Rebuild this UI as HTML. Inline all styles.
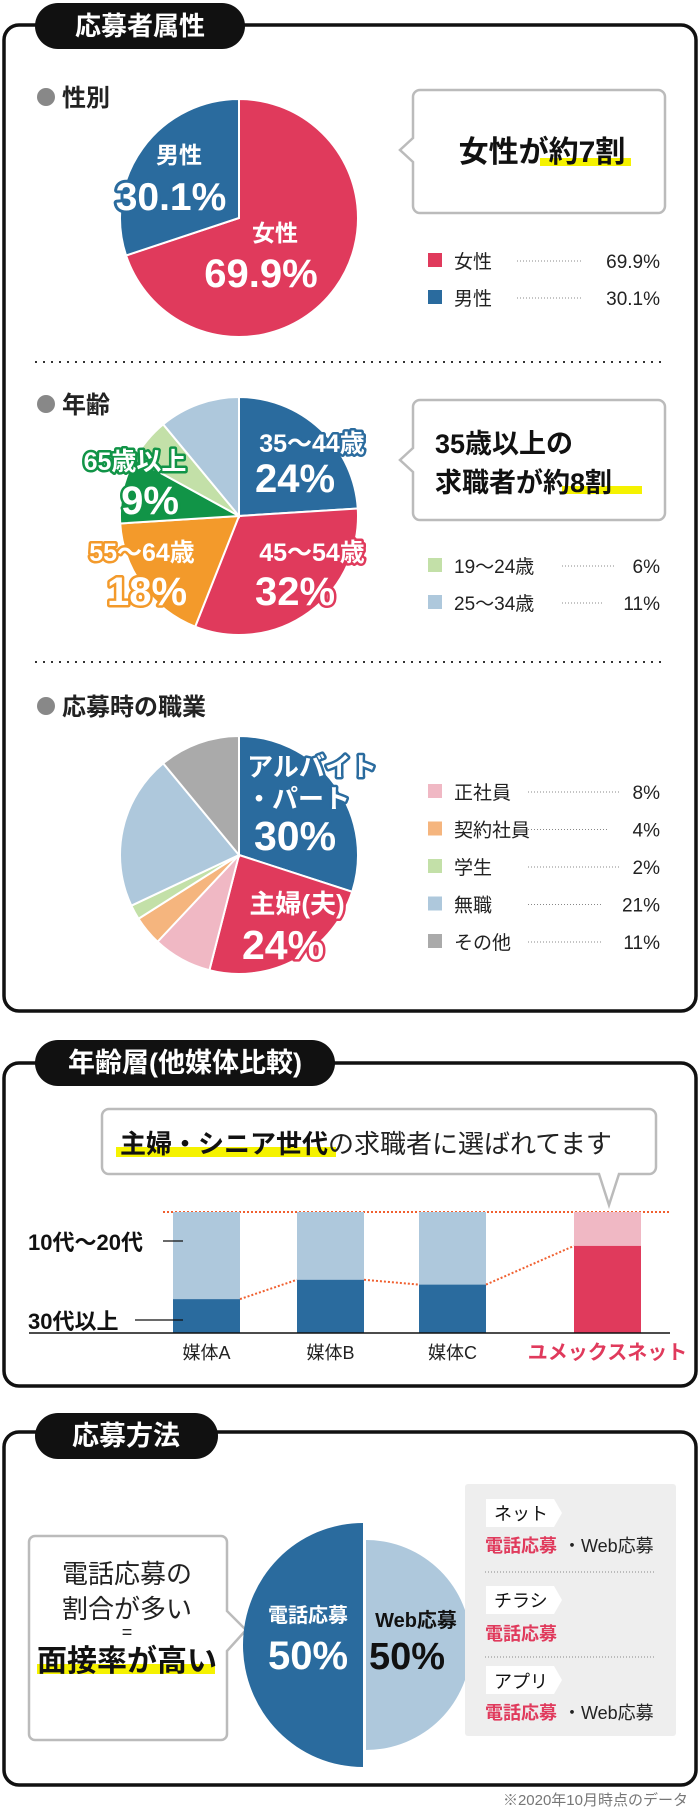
<!DOCTYPE html>
<html><head><meta charset="utf-8">
<style>
html,body{margin:0;padding:0;background:#fff;}
svg{display:block;font-family:"Liberation Sans","Noto Sans CJK JP",sans-serif;}
.b{font-weight:700;}
.ol{paint-order:stroke;stroke-linejoin:round;}
</style></head>
<body>
<svg id="page" width="700" height="1810" viewBox="0 0 700 1810">
<!-- Section 1 -->
<g>
<rect x="4" y="25" width="692" height="986" rx="15" fill="#fff" stroke="#111" stroke-width="3.5"/>
<rect x="35" y="3" width="210" height="46" rx="23" fill="#111"/>
<text x="140" y="35" text-anchor="middle" font-size="26" fill="#fff" class="b">応募者属性</text>

<circle cx="46" cy="97" r="9" fill="#888"/>
<text x="62" y="106" font-size="24" class="b" fill="#222">性別</text>
<g id="pie1"></g>
<text x="179" y="163" text-anchor="middle" font-size="23" class="b" fill="#fff">男性</text>
<text x="171" y="210" text-anchor="middle" font-size="39" class="b ol" fill="#fff" stroke="#2a6b9e" stroke-width="6">30.1%</text>
<text x="275" y="241" text-anchor="middle" font-size="23" class="b" fill="#fff">女性</text>
<text x="261" y="287" text-anchor="middle" font-size="40" class="b" fill="#fff">69.9%</text>

<path d="M420,90 H658 a7,7 0 0 1 7,7 V206 a7,7 0 0 1 -7,7 H420 a7,7 0 0 1 -7,-7 V162 L400,150 L413,138 V97 a7,7 0 0 1 7,-7Z" fill="#fff" stroke="#bbb" stroke-width="2.5"/>
<rect x="540" y="158" width="91" height="8" fill="#f5f200"/>
<text x="542" y="162" text-anchor="middle" font-size="30" class="b" fill="#111">女性が約7割</text>

<g font-size="19" fill="#222">
<rect x="428" y="253" width="14" height="14" fill="#e03a5c"/><text x="454" y="268">女性</text>
<line x1="517" y1="261" x2="583" y2="261" stroke="#888" stroke-dasharray="1 2"/><text x="660" y="268" text-anchor="end">69.9%</text>
<rect x="428" y="290" width="14" height="14" fill="#2a6b9e"/><text x="454" y="305">男性</text>
<line x1="517" y1="298" x2="583" y2="298" stroke="#888" stroke-dasharray="1 2"/><text x="660" y="305" text-anchor="end">30.1%</text>
</g>
<line x1="35" y1="362" x2="664" y2="362" stroke="#333" stroke-width="2" stroke-dasharray="2 6"/>

<circle cx="46" cy="404" r="9" fill="#888"/>
<text x="62" y="413" font-size="24" class="b" fill="#222">年齢</text>
<g id="pie2"></g>
<g font-weight="700" class="ol" fill="#fff" stroke-width="5">
<text x="312" y="452" text-anchor="middle" font-size="25" stroke="#2a6b9e">35〜44歳</text>
<text x="295" y="492" text-anchor="middle" font-size="40" stroke="#2a6b9e">24%</text>
<text x="312" y="561" text-anchor="middle" font-size="25" stroke="#e03a5c">45〜54歳</text>
<text x="295" y="605" text-anchor="middle" font-size="40" stroke="#e03a5c">32%</text>
<text x="142" y="561" text-anchor="middle" font-size="25" stroke="#f39a2b">55〜64歳</text>
<text x="147" y="605" text-anchor="middle" font-size="40" stroke="#f39a2b">18%</text>
<text x="135" y="470" text-anchor="middle" font-size="25" stroke="#119447">65歳以上</text>
<text x="150" y="514" text-anchor="middle" font-size="40" stroke="#119447">9%</text>
</g>
<path d="M420,400 H658 a7,7 0 0 1 7,7 V513 a7,7 0 0 1 -7,7 H420 a7,7 0 0 1 -7,-7 V472 L400,460 L413,448 V407 a7,7 0 0 1 7,-7Z" fill="#fff" stroke="#bbb" stroke-width="2.5"/>
<rect x="562" y="486" width="80" height="8" fill="#f5f200"/>
<text x="435" y="453" font-size="27" class="b" fill="#111">35歳以上の</text>
<text x="435" y="492" font-size="27" class="b" fill="#111">求職者が約8割</text>
<g font-size="19" fill="#222">
<rect x="428" y="558" width="14" height="14" fill="#c3e0a8"/><text x="454" y="573">19〜24歳</text>
<line x1="562" y1="566" x2="614" y2="566" stroke="#888" stroke-dasharray="1 2"/><text x="660" y="573" text-anchor="end">6%</text>
<rect x="428" y="595" width="14" height="14" fill="#aec8dc"/><text x="454" y="610">25〜34歳</text>
<line x1="562" y1="603" x2="604" y2="603" stroke="#888" stroke-dasharray="1 2"/><text x="660" y="610" text-anchor="end">11%</text>
</g>
<line x1="35" y1="662" x2="664" y2="662" stroke="#333" stroke-width="2" stroke-dasharray="2 6"/>

<circle cx="46" cy="706" r="9" fill="#888"/>
<text x="62" y="715" font-size="24" class="b" fill="#222">応募時の職業</text>
<g id="pie3"></g>
<g font-weight="700" class="ol" fill="#fff" stroke-width="5">
<text x="312" y="776" text-anchor="middle" font-size="26" stroke="#2a6b9e">アルバイト</text>
<text x="298" y="808" text-anchor="middle" font-size="26" stroke="#2a6b9e">・パート</text>
<text x="295" y="850" text-anchor="middle" font-size="41" stroke="#2a6b9e">30%</text>
<text x="297" y="913" text-anchor="middle" font-size="26" stroke="#e03a5c">主婦(夫)</text>
<text x="283" y="959" text-anchor="middle" font-size="41" stroke="#e03a5c">24%</text>
</g>
<g id="legend3" font-size="19" fill="#222"></g>
</g>

<!-- Section 2 -->
<g>
<rect x="4" y="1063" width="692" height="323" rx="15" fill="#fff" stroke="#111" stroke-width="3.5"/>
<rect x="35" y="1040" width="300" height="46" rx="23" fill="#111"/>
<text x="185" y="1072" text-anchor="middle" font-size="27" fill="#fff" class="b">年齢層(他媒体比較)</text>
<path d="M109,1109 H649 a7,7 0 0 1 7,7 V1167 a7,7 0 0 1 -7,7 H619 L609,1205 L599,1174 H109 a7,7 0 0 1 -7,-7 V1116 a7,7 0 0 1 7,-7Z" fill="#fff" stroke="#bbb" stroke-width="2.5"/>
<rect x="116" y="1147" width="220" height="10" fill="#f5f200"/>
<text x="120" y="1153" font-size="26" fill="#222"><tspan font-weight="700" fill="#111">主婦・シニア世代</tspan>の求職者に選ばれてます</text>
<g id="chart"></g>
</g>

<!-- Section 3 -->
<g>
<rect x="4" y="1432" width="692" height="353" rx="15" fill="#fff" stroke="#111" stroke-width="3.5"/>
<rect x="35" y="1413" width="183" height="46" rx="23" fill="#111"/>
<text x="126" y="1445" text-anchor="middle" font-size="27" fill="#fff" class="b">応募方法</text>
<path d="M35,1582 H221 a6,6 0 0 1 6,6 V1657 L246,1676 L227,1697 V1780 a6,6 0 0 1 -6,6 H35 a6,6 0 0 1 -6,-6 V1588 a6,6 0 0 1 6,-6Z" transform="translate(0,-46)" fill="#fff" stroke="#bbb" stroke-width="2.5"/>
<g text-anchor="middle" fill="#222">
<text x="127" y="1583" font-size="26">電話応募の</text>
<text x="127" y="1618" font-size="26">割合が多い</text>
<text x="127" y="1638" font-size="18">=</text>
<rect x="37" y="1664" width="178" height="10" fill="#f5f200"/>
<text x="127" y="1671" font-size="30" class="b" fill="#111">面接率が高い</text>
</g>
<path d="M363,1523 A120,122 0 0 0 363,1767 Z" fill="#2a6b9e"/>
<path d="M366,1540 A105,105 0 0 1 366,1750 Z" fill="#aec8dc"/>
<text x="308" y="1622" text-anchor="middle" font-size="20" class="b" fill="#fff">電話応募</text>
<text x="308" y="1669" text-anchor="middle" font-size="40" class="b" fill="#fff">50%</text>
<text x="416" y="1627" text-anchor="middle" font-size="20" class="b" fill="#111">Web応募</text>
<text x="407" y="1669" text-anchor="middle" font-size="38" class="b" fill="#111">50%</text>

<rect x="465" y="1484" width="211" height="252" rx="3" fill="#eeeeee"/>
<g font-size="18">
<path d="M486,1499 H554 L562,1513 L554,1527 H486Z" fill="#fff"/>
<text x="494" y="1520" fill="#111">ネット</text>
<text x="485" y="1552"><tspan fill="#e03a5c" font-weight="700">電話応募</tspan><tspan fill="#222" dx="6">・Web応募</tspan></text>
<line x1="485" y1="1572" x2="655" y2="1572" stroke="#888" stroke-dasharray="1 2"/>
<path d="M486,1586 H554 L562,1600 L554,1614 H486Z" fill="#fff"/>
<text x="494" y="1607" fill="#111">チラシ</text>
<text x="485" y="1640" fill="#e03a5c" font-weight="700">電話応募</text>
<line x1="485" y1="1657" x2="655" y2="1657" stroke="#888" stroke-dasharray="1 2"/>
<path d="M486,1666 H554 L562,1680 L554,1694 H486Z" fill="#fff"/>
<text x="494" y="1688" fill="#111">アプリ</text>
<text x="485" y="1719"><tspan fill="#e03a5c" font-weight="700">電話応募</tspan><tspan fill="#222" dx="6">・Web応募</tspan></text>
</g>
</g>
<text x="688" y="1805" text-anchor="end" font-size="15" fill="#777">※2020年10月時点のデータ</text>
</svg>
<script>
// pie data
const genderLabels = ["女性","男性"];
const genderValues = [69.9, 30.1];
const genderColors = ["#e03a5c","#2a6b9e"];
const ageLabels = ["35〜44歳","45〜54歳","55〜64歳","65歳以上","19〜24歳","25〜34歳"];
const ageValues = [24, 32, 18, 9, 6, 11];
const ageColors = ["#2a6b9e","#e03a5c","#f39a2b","#119447","#c3e0a8","#aec8dc"];
const jobLabels = ["アルバイト・パート","主婦(夫)","正社員","契約社員","学生","無職","その他"];
const jobValues = [30, 24, 8, 4, 2, 21, 11];
const jobColors = ["#2a6b9e","#e03a5c","#f0b8c4","#f5b57e","#c3e0a8","#aec8dc","#aaaaaa"];
// bar chart data
const barCategories = ["媒体A","媒体B","媒体C","ユメックスネット"];
const olderShare = [28, 44, 40, 72];
const youngerShare = [72, 56, 60, 28];
const yTickLabels = ["10代〜20代","30代以上"];

const NS = "http://www.w3.org/2000/svg";
function mk(tag, attrs, parent){const e=document.createElementNS(NS,tag);for(const k in attrs)e.setAttribute(k,attrs[k]);parent.appendChild(e);return e;}

function drawPie(gid, cx, cy, r, values, colors, names){
  const g=document.getElementById(gid);
  const total=values.reduce((a,b)=>a+b,0);
  let a0=0;
  values.forEach((v,i)=>{
    const a1=a0+v/total*Math.PI*2;
    const x0=cx+r*Math.sin(a0), y0=cy-r*Math.cos(a0);
    const x1=cx+r*Math.sin(a1), y1=cy-r*Math.cos(a1);
    const large=(a1-a0)>Math.PI?1:0;
    const p=mk("path",{d:`M${cx},${cy} L${x0},${y0} A${r},${r} 0 ${large} 1 ${x1},${y1} Z`,fill:colors[i],stroke:"#fff","stroke-width":"2"},g);
    
    
    a0=a1;
  });
}
drawPie("pie1",239,218,119,genderValues,genderColors,genderLabels);
drawPie("pie2",239,516,119,ageValues,ageColors,ageLabels);
drawPie("pie3",239,855,119,jobValues,jobColors,jobLabels);

// occupation legend (non-labelled slices)
const lg=document.getElementById("legend3");
const legendIdx=[2,3,4,5,6];
const legendDotEnd=[620,608,620,603,603];
legendIdx.forEach((k,j)=>{
  const y=792+j*37.5;
  const r=mk("rect",{x:428,y:y-8,width:14,height:14,fill:jobColors[k]},lg);
  
  
  const t=mk("text",{x:454,y:y+7},lg); t.textContent=jobLabels[k];
  
  
  mk("line",{x1:528,y1:y,x2:legendDotEnd[j],y2:y,stroke:"#888","stroke-dasharray":"1 2"},lg);
  const v=mk("text",{x:660,y:y+7,"text-anchor":"end"},lg); v.textContent=jobValues[k]+"%";
  
  
});

// bar chart
const cg=document.getElementById("chart");
const baseY=1333, topY=1212, H=baseY-topY;
const barX=[173,297,419,574], barW=67;
function yScale(p){return baseY - p/100*H;}
mk("line",{x1:163,y1:topY,x2:670,y2:topY,stroke:"#f06030","stroke-width":"2","stroke-dasharray":"2 2"},cg);
barCategories.forEach((c,i)=>{
  const isUs=i===3;
  const total=olderShare[i]+youngerShare[i];
  const yo=yScale(olderShare[i]/total*100);
  const lt=mk("rect",{x:barX[i],y:topY,width:barW,height:yo-topY,fill:isUs?"#f0b8c4":"#aec8dc"},cg);
  
  
  const dk=mk("rect",{x:barX[i],y:yo,width:barW,height:baseY-yo,fill:isUs?"#e03a5c":"#2a6b9e"},cg);
  
  
  const t=mk("text",{x:barX[i]+barW/2,y:1359,"text-anchor":"middle","font-size":isUs?"20":"18",fill:isUs?"#e03a5c":"#222","font-weight":isUs?"700":"400"},cg);
  t.textContent=c;
  
  
  if(i<3){
    const yn=yScale(olderShare[i+1]/(olderShare[i+1]+youngerShare[i+1])*100);
    mk("line",{x1:barX[i]+barW,y1:yo,x2:barX[i+1],y2:yn,stroke:"#f06030","stroke-width":"2","stroke-dasharray":"2 2"},cg);
  }
});
mk("line",{x1:29,y1:baseY,x2:670,y2:baseY,stroke:"#111","stroke-width":"1.5"},cg);
const tk=[{y:1241,x2:183,x1:163},{y:1320,x1:135,x2:183}];
yTickLabels.forEach((l,i)=>{
  const t=mk("text",{x:28,y:tk[i].y+9,"font-size":"22","font-weight":"700",fill:"#111"},cg);
  t.textContent=l;
  
  
  mk("line",{x1:tk[i].x1,y1:tk[i].y,x2:tk[i].x2,y2:tk[i].y,stroke:"#111","stroke-width":"1.2"},cg);
});
</script>
</body></html>
